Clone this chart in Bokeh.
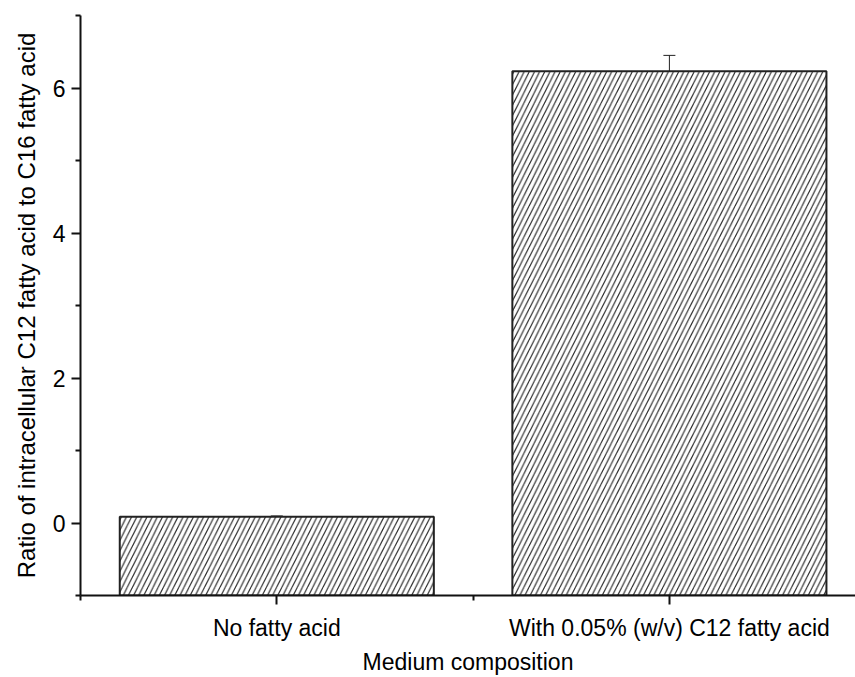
from bokeh.plotting import figure
from bokeh.models import ColumnDataSource, FixedTicker, Whisker, Range1d
from bokeh.embed import file_html
from bokeh.resources import INLINE

categories = ["No fatty acid", "With 0.05% (w/v) C12 fatty acid"]
positions = [1, 2]
ratios = [0.087, 6.23]
errors = [0.01, 0.22]
y_ticks = [0, 2, 4, 6]
y_minor = [-1, 1, 3, 5, 7]

FONT = "Liberation Sans"

p = figure(width=855, height=677, output_backend="svg", toolbar_location=None,
           x_range=Range1d(0.5, 2.474), y_range=Range1d(-1, 7),
           min_border_left=80, min_border_top=15, min_border_right=0, min_border_bottom=82)
p.outline_line_color = None
p.xgrid.visible = False
p.ygrid.visible = False

src = ColumnDataSource(dict(
    x=positions, top=ratios,
    upper=[v + e for v, e in zip(ratios, errors)],
    lower=[v - e for v, e in zip(ratios, errors)],
))

p.vbar(x="x", top="top", bottom=-1, width=0.8, source=src,
       fill_color="white", line_color="#222222", line_width=2,
       hatch_pattern="/", hatch_color="#222222", hatch_scale=10.3, hatch_weight=1.1)

w = Whisker(base="x", upper="upper", lower="lower", source=src,
            line_color="#222222", line_width=1)
w.upper_head.size = 12
w.lower_head.size = 12
w.upper_head.line_color = "#222222"
w.lower_head.line_color = "#222222"
p.add_layout(w)

# axes
p.xaxis.ticker = FixedTicker(ticks=positions, minor_ticks=[0.5, 1.5, 2.5])
p.xaxis.major_label_overrides = {pos: c for pos, c in zip(positions, categories)}
p.yaxis.ticker = FixedTicker(ticks=y_ticks, minor_ticks=y_minor)

for ax in (p.xaxis, p.yaxis):
    ax.axis_line_width = 2
    ax.axis_line_color = "#111111"
    ax.major_tick_line_width = 2
    ax.minor_tick_line_width = 2
    ax.major_tick_line_color = "#111111"
    ax.minor_tick_line_color = "#111111"
    ax.major_tick_out = 9
    ax.major_tick_in = 0
    ax.minor_tick_out = 5
    ax.minor_tick_in = 0
    ax.major_label_text_font = FONT
    ax.major_label_text_font_size = "23px"
    ax.major_label_text_color = "black"
    ax.axis_label_text_font = FONT
    ax.axis_label_text_font_size = "23px"
    ax.axis_label_text_font_style = "normal"
    ax.axis_label_text_color = "black"

p.yaxis.axis_label_text_font_size = "24px"
p.xaxis.axis_label = "Medium composition"
p.yaxis.axis_label = "Ratio of intracellular C12 fatty acid to C16 fatty acid"
p.xaxis.major_label_standoff = 10
p.xaxis.axis_label_standoff = 5
p.yaxis.major_label_standoff = 6
p.yaxis.axis_label_standoff = 10

open("out.html", "w").write(file_html(p, INLINE))
